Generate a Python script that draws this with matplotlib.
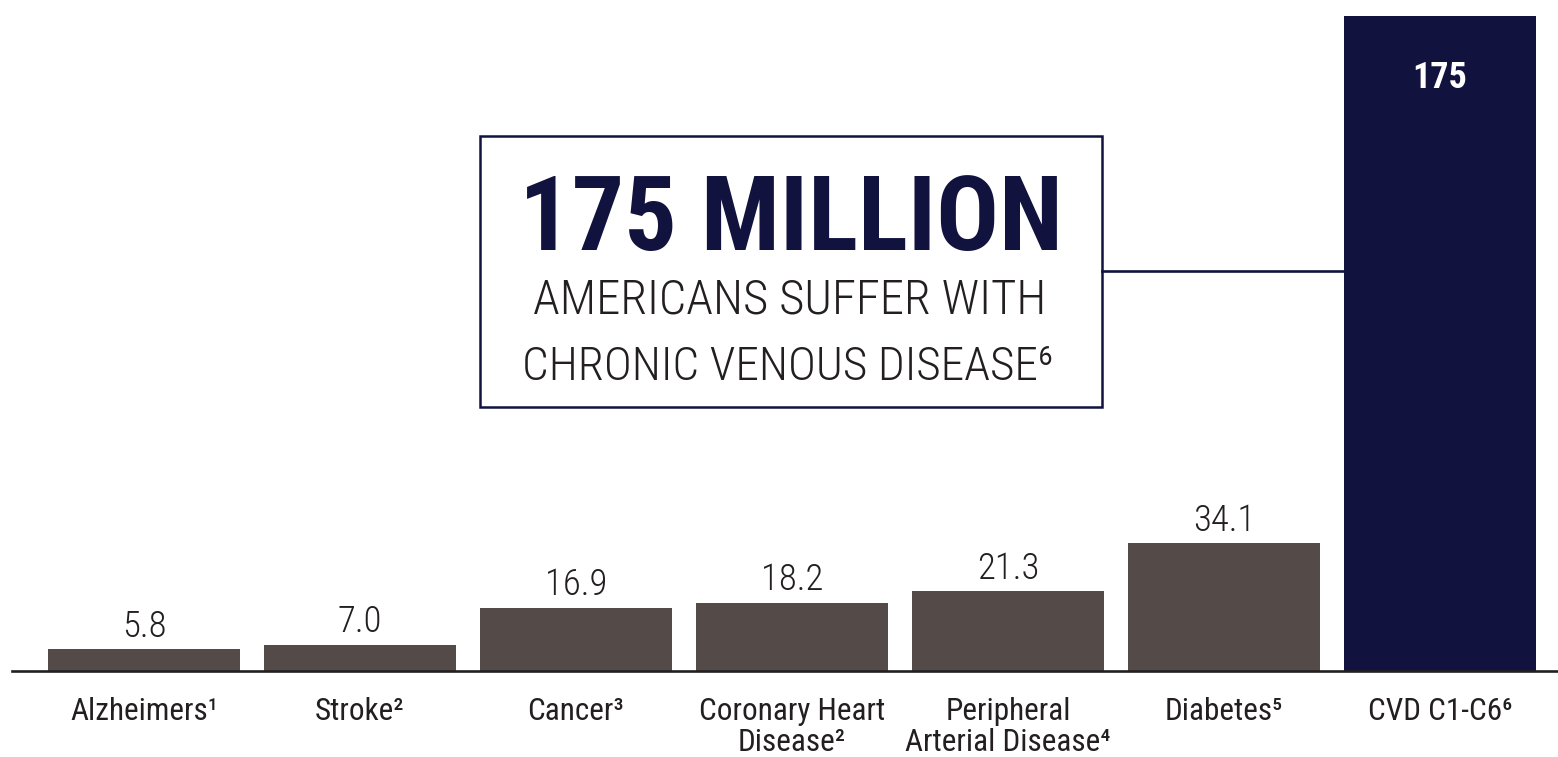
import numpy as np
import matplotlib
matplotlib.use("Agg")
import matplotlib.pyplot as plt
from matplotlib.patches import Rectangle
from matplotlib.lines import Line2D

# dati (milioni di americani)
categorie = ["Alzheimers¹", "Stroke²", "Cancer³", "Coronary Heart\nDisease²",
             "Peripheral\nArterial Disease⁴", "Diabetes⁵", "CVD C1-C6⁶"]
valori = [5.8, 7.0, 16.9, 18.2, 21.3, 34.1, 175]
etichette_valori = ["5.8", "7.0", "16.9", "18.2", "21.3", "34.1", "175"]

GRIGIO = "#544b48"
BLU = "#11133e"
TESTO = "#231f20"
FONT = ["Roboto Condensed", "DejaVu Sans"]
ST = "condensed"

W, H = 1558, 757
fig = plt.figure(figsize=(W / 100, H / 100), dpi=100)
ax = fig.add_axes([0, 86 / H, 1, 655 / H])

x = np.arange(len(valori))
colori = [GRIGIO] * (len(valori) - 1) + [BLU]
ax.bar(x, valori, width=192 / 216, color=colori)
ax.set_xlim(-144 / 216, (W - 144) / 216)
ax.set_ylim(0, 175)
ax.axis("off")
ax.axhline(0, xmin=12 / W, color=TESTO, lw=1.9, clip_on=False)

# valori sopra le barre grigie
for i in range(len(valori) - 1):
    ax.annotate(etichette_valori[i], (x[i], valori[i]), xytext=(0, 9),
                textcoords="offset points", ha="center", va="baseline",
                fontsize=26.5, weight="light", color=TESTO, family=FONT, stretch=ST)
# valore dentro la barra blu
ax.annotate(etichette_valori[-1], (x[-1], valori[-1]), xytext=(0, -52),
            textcoords="offset points", ha="center", va="baseline",
            fontsize=26, color="white", weight="bold", family=FONT, stretch=ST)

# categorie sotto l'asse
for i, cat in enumerate(categorie):
    ax.annotate(cat, (x[i], 0), xytext=(0, -18.5), textcoords="offset points",
                ha="center", va="top", fontsize=22.5, linespacing=1.1,
                color=TESTO, family=FONT, stretch=ST, annotation_clip=False)

# riquadro centrale con collegamento alla barra
fig.add_artist(Rectangle((480 / W, 1 - 407 / H), 622 / W, 271 / H,
                         transform=fig.transFigure, fill=False, ec=BLU, lw=1.8))
fig.add_artist(Line2D([1102 / W, 1344 / W], [1 - 271 / H] * 2,
                      transform=fig.transFigure, color=BLU, lw=1.9))
fig.text(791 / W, 1 - 250 / H, "175 MILLION", ha="center", va="baseline",
         fontsize=75, weight="heavy", color=BLU, family=FONT, stretch=ST)
fig.text(790 / W, 1 - 313 / H, "AMERICANS SUFFER WITH", ha="center", va="baseline",
         fontsize=35, weight="light", color=TESTO, family=FONT, stretch=ST)
fig.text(788 / W, 1 - 380 / H, "CHRONIC VENOUS DISEASE⁶", ha="center", va="baseline",
         fontsize=34, weight="light", color=TESTO, family=FONT, stretch=ST)

fig.savefig("out.png", dpi=100)
